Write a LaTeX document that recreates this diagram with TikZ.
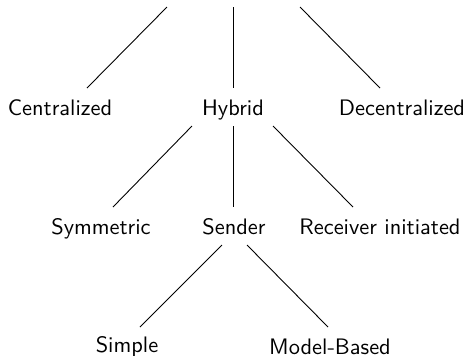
\documentclass[tikz,border=0pt]{standalone}
\begin{document}
\begin{tikzpicture}[x=0.4465pt,y=-0.4465pt,
  label/.style={font=\sffamily,anchor=base,inner sep=0pt},
  branch/.style={draw=black,line width=0.4pt}]
\useasboundingbox (0,0) rectangle (473,355);

% first level
\node[label] (cent)  at (60,115)  {Centralized};
\node[label] (hyb)   at (233,115) {Hybrid};
\node[label] (dec)   at (402,115) {Decentralized};
% second level
\node[label] (sym)   at (101,234) {Symmetric};
\node[label] (send)  at (234,234) {Sender};
\node[label] (recv)  at (380,234) {Receiver initiated};
% third level
\node[label] (simp)  at (127,352) {Simple};
\node[label] (model) at (330,354) {Model-Based};

% edge end points
\coordinate (r1) at (167,7);
\coordinate (r2) at (233,7);
\coordinate (r3) at (300,7);
\coordinate (c1) at (87,88);
\coordinate (c2) at (233,88);
\coordinate (c3) at (380,88);
\coordinate (h1) at (192,126);
\coordinate (h2) at (233,126);
\coordinate (h3) at (273,126);
\coordinate (s1) at (113,207);
\coordinate (s2) at (233,207);
\coordinate (s3) at (353,207);
\coordinate (e1) at (222,245);
\coordinate (e2) at (247,245);
\coordinate (m1) at (140,327);
\coordinate (m2) at (328,327);

\draw[branch] (r1) -- (c1);
\draw[branch] (r2) -- (c2);
\draw[branch] (r3) -- (c3);
\draw[branch] (h1) -- (s1);
\draw[branch] (h2) -- (s2);
\draw[branch] (h3) -- (s3);
\draw[branch] (e1) -- (m1);
\draw[branch] (e2) -- (m2);
\end{tikzpicture}
\end{document}
